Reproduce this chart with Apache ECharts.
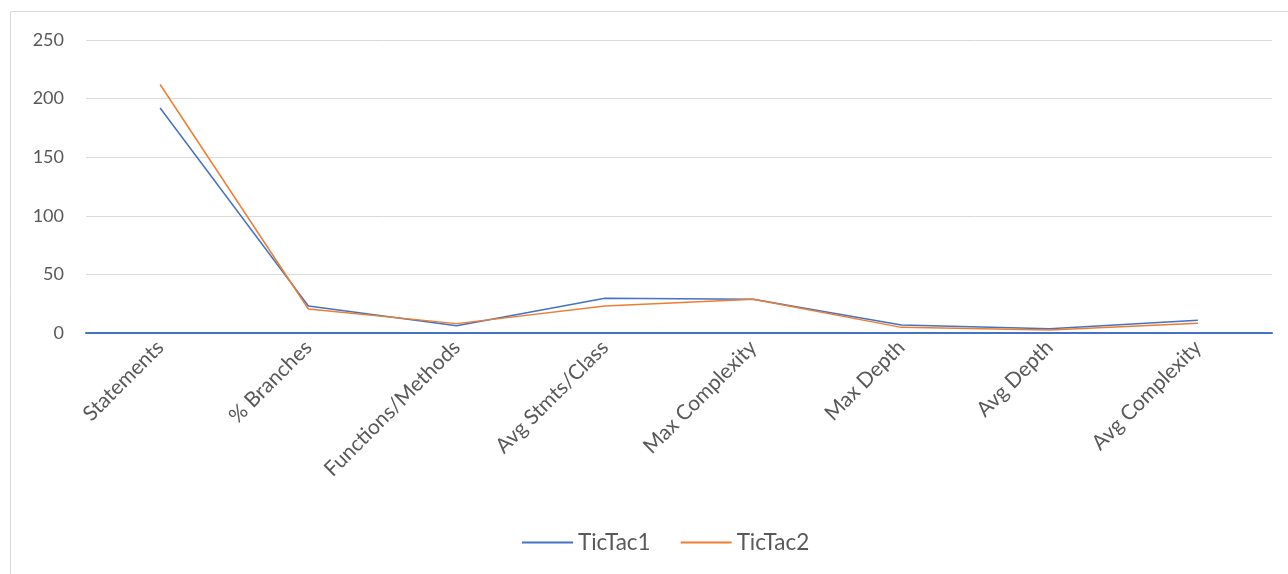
<!DOCTYPE html>
<html>
<head>
<meta charset="utf-8">
<script src="https://cdn.jsdelivr.net/npm/echarts@6/dist/echarts.min.js"></script>
<style>
html,body{margin:0;padding:0;background:#fff;}
#c{width:1288px;height:574px;}
</style>
</head>
<body>
<div id="c"></div>
<script>
const categories = ['Statements', '% Branches', 'Functions/Methods', 'Avg Stmts/Class', 'Max Complexity', 'Max Depth', 'Avg Depth', 'Avg Complexity'];
const tictac1 = [192, 23, 6.2, 29.6, 28.8, 6.8, 3.7, 10.8];
const tictac2 = [212, 20.5, 8, 23, 28.8, 4.8, 2.6, 8.3];
const seriesNames = ['TicTac1', 'TicTac2'];
const yMin = 0, yMax = 250, yInterval = 50;

const chart = echarts.init(document.getElementById('c'), null, {renderer: 'canvas'});
const fontFamily = 'Lato, "Open Sans", "Noto Sans", sans-serif';
chart.setOption({
  animation: false,
  graphic: [{
    type: 'rect', shape: {x: 10.5, y: 11.5, width: 1300, height: 600},
    style: {fill: 'none', stroke: '#d9d9d9', lineWidth: 1}, silent: true, z: -1
  }],
  grid: {left: 86, right: 16, top: 40, bottom: 241, containLabel: false},
  legend: {
    bottom: 15, left: 517, itemWidth: 51, itemHeight: 2, itemGap: 30,
    icon: 'rect',
    textStyle: {fontFamily: fontFamily, fontSize: 22.5, color: '#595959'},
    data: seriesNames
  },
  xAxis: {
    type: 'category', data: categories, boundaryGap: true,
    axisLine: {show: true, lineStyle: {color: '#4472C4', width: 2}},
    axisTick: {show: false},
    axisLabel: {rotate: 45, margin: 11, fontFamily: fontFamily, fontSize: 21, color: '#595959', interval: 0}
  },
  yAxis: {
    type: 'value', min: yMin, max: yMax, interval: yInterval,
    axisLine: {show: false}, axisTick: {show: false},
    splitLine: {lineStyle: {color: '#d9d9d9', width: 1}},
    axisLabel: {margin: 22, fontFamily: fontFamily, fontSize: 18, color: '#595959'}
  },
  series: [
    {name: seriesNames[0], type: 'line', data: tictac1, symbol: 'none', lineStyle: {color: '#4472C4', width: 1.5}, itemStyle: {color: '#4472C4'}},
    {name: seriesNames[1], type: 'line', data: tictac2, symbol: 'none', lineStyle: {color: '#ED7D31', width: 1.5}, itemStyle: {color: '#ED7D31'}}
  ]
});
</script>
</body>
</html>
